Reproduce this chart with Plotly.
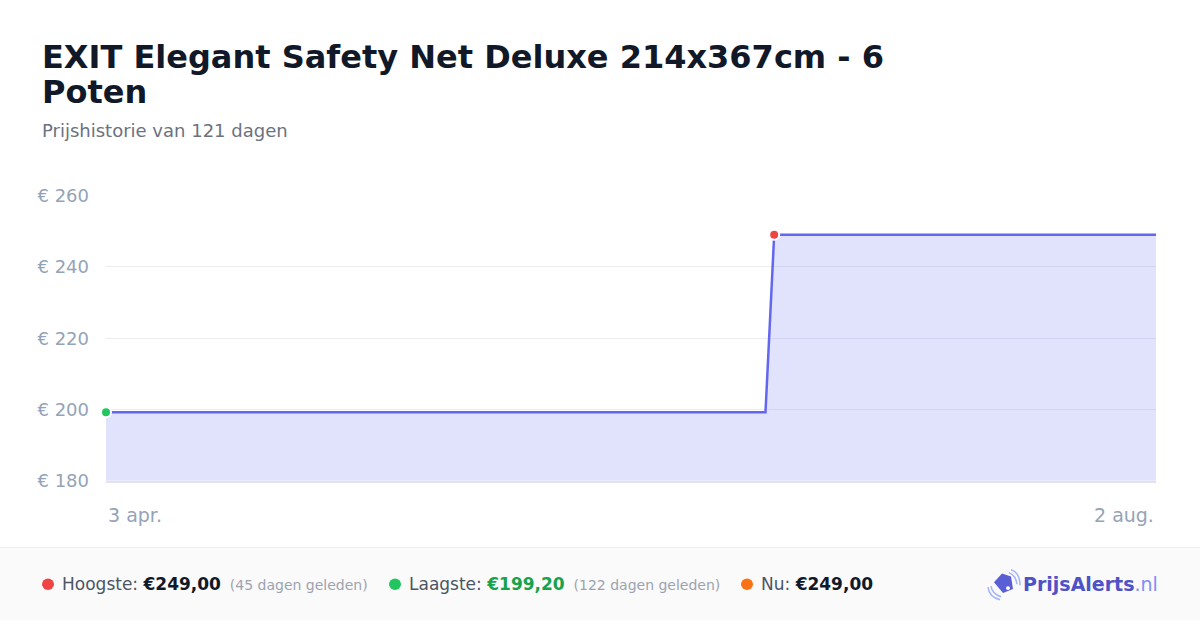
import plotly.graph_objects as go

# ---- data ----
dates = ["2025-04-03", "2025-06-18", "2025-06-19", "2025-08-02"]
prices = [199.20, 199.20, 249.00, 249.00]
y_ticks = [180, 200, 220, 240, 260]
y_tick_labels = ["€ 180", "€ 200", "€ 220", "€ 240", "€ 260"]
x_tick_dates = ["2025-04-03", "2025-08-02"]
x_tick_labels = ["3 apr.", "2 aug."]
title_lines = ["EXIT Elegant Safety Net Deluxe 214x367cm - 6", "Poten"]
subtitle_text = "Prijshistorie van 121 dagen"

W, H = 1200, 630
def px(x):
    return x / W
def py(y):
    return 1 - y / H

FONT = "DejaVu Sans"
LINE = "#6366f1"

hi = max(range(len(prices)), key=lambda i: (prices[i], -i))
lo = min(range(len(prices)), key=lambda i: (prices[i], i))

fig = go.Figure()
fig.add_trace(go.Scatter(
    x=dates, y=prices, mode="lines",
    line=dict(color=LINE, width=2.5),
    fill="tozeroy", fillcolor="rgba(129,140,248,0.24)",
    hoverinfo="skip", showlegend=False,
))
fig.add_trace(go.Scatter(
    x=[dates[hi]], y=[prices[hi]], mode="markers",
    marker=dict(color="#ef4444", size=10, line=dict(color="white", width=2)),
    showlegend=False, hoverinfo="skip", cliponaxis=False,
))
fig.add_trace(go.Scatter(
    x=[dates[lo]], y=[prices[lo]], mode="markers",
    marker=dict(color="#22c55e", size=10, line=dict(color="white", width=2)),
    showlegend=False, hoverinfo="skip", cliponaxis=False,
))

shapes = []
# footer background
shapes.append(dict(type="rect", xref="paper", yref="paper",
                   x0=0, x1=1, y0=0, y1=py(555),
                   fillcolor="#fafafa", line=dict(width=0), layer="below"))
shapes.append(dict(type="line", xref="paper", yref="paper",
                   x0=0, x1=1, y0=py(555), y1=py(555),
                   line=dict(color="#eeeeee", width=1)))
# footer dots
for cx, col in [(48, "#ef4444"), (395, "#22c55e"), (747, "#f97316")]:
    r = 6
    shapes.append(dict(type="circle", xref="paper", yref="paper",
                       x0=px(cx - r), x1=px(cx + r), y0=py(593 + r), y1=py(593 - r),
                       fillcolor=col, line=dict(width=0)))

# logo icon (tag + waves)
def path(points, close=True):
    s = "M " + " L ".join(f"{px(x)},{py(y)}" for x, y in points)
    return s + (" Z" if close else "")
shapes.append(dict(type="path", xref="paper", yref="paper",
                   path=path([(994, 591), (1002, 582), (1011, 585), (1013, 598), (1003, 602)]),
                   fillcolor="#5b5fd6", line=dict(width=0)))
shapes.append(dict(type="circle", xref="paper", yref="paper",
                   x0=px(1006), x1=px(1010), y0=py(599), y1=py(595),
                   fillcolor="white", line=dict(width=0)))
def qpath(p0, c, p1):
    return f"M {px(p0[0])},{py(p0[1])} Q {px(c[0])},{py(c[1])} {px(p1[0])},{py(p1[1])}"
for p0, c, p1 in [((1009, 581), (1016, 584), (1017, 593)),
                  ((1011, 578), (1020, 581), (1020, 594)),
                  ((991, 595), (992, 603), (1001, 606)),
                  ((988, 596), (989, 606), (1000, 609))]:
    shapes.append(dict(type="path", xref="paper", yref="paper", path=qpath(p0, c, p1),
                       line=dict(color="#a5b4fc", width=1.5)))

annotations = [
    dict(text=f"<b>{title_lines[0]}</b>", xref="paper", yref="paper",
         x=px(40), y=py(48), xanchor="left", yanchor="middle", align="left",
         showarrow=False, font=dict(family=FONT, size=32, color="#111827")),
    dict(text=f"<b>{title_lines[1]}</b>", xref="paper", yref="paper",
         x=px(40), y=py(84), xanchor="left", yanchor="middle", align="left",
         showarrow=False, font=dict(family=FONT, size=32, color="#111827")),
    dict(text=subtitle_text, xref="paper", yref="paper",
         x=px(40), y=py(124), xanchor="left", yanchor="middle", align="left",
         showarrow=False, font=dict(family=FONT, size=18, color="#6b7280")),
    dict(text=x_tick_labels[0], xref="x", yref="paper", x=x_tick_dates[0], y=py(521),
         xanchor="left", yanchor="middle", showarrow=False,
         font=dict(family=FONT, size=19, color="#94a3b8")),
    dict(text=x_tick_labels[1], xref="x", yref="paper", x=x_tick_dates[1], y=py(521),
         xanchor="right", yanchor="middle", showarrow=False,
         font=dict(family=FONT, size=19, color="#94a3b8")),
]

def footer_item(x, label, value, value_color, note=None):
    t = f"{label} <b><span style='color:{value_color}'>{value}</span></b>"
    if note:
        t += f"<span style='font-size:14px;color:#9ca3af'>  {note}</span>"
    return dict(text=t, xref="paper", yref="paper", x=px(x), y=py(593),
                xanchor="left", yanchor="middle", showarrow=False,
                font=dict(family=FONT, size=17, color="#4b5563"))

annotations += [
    footer_item(60, "Hoogste:", "€249,00", "#111827", "(45 dagen geleden)"),
    footer_item(407, "Laagste:", "€199,20", "#16a34a", "(122 dagen geleden)"),
    footer_item(759, "Nu:", "€249,00", "#111827"),
    dict(text="<b><span style='color:#4f52c6'>PrijsAlerts</span></b><span style='color:#818cf8'>.nl</span>",
         xref="paper", yref="paper", x=px(1160), y=py(593), xanchor="right", yanchor="middle",
         showarrow=False, font=dict(family=FONT, size=19)),
]

fig.update_layout(
    width=W, height=H,
    margin=dict(l=0, r=0, t=0, b=0),
    paper_bgcolor="white", plot_bgcolor="white",
    shapes=shapes, annotations=annotations,
    xaxis=dict(domain=[px(106), px(1156)], range=[dates[0], dates[-1]],
               showgrid=False, showticklabels=False, zeroline=False,
               showline=True, linecolor="#e2e4ea", linewidth=1.5, fixedrange=True),
    yaxis=dict(domain=[py(486), py(191)], range=[180, 260],
               tickvals=y_ticks, ticktext=y_tick_labels,
               showgrid=True, gridcolor="#ececf0", gridwidth=1, zeroline=False,
               ticklabelstandoff=16, tickfont=dict(family=FONT, size=18, color="#94a3b8"),
               fixedrange=True),
)

fig.write_html(
    "out.html",
    config={"displayModeBar": False},
    post_script=(
        "document.documentElement.style.margin='0';"
        "document.documentElement.style.overflow='hidden';"
        "document.body.style.margin='0';document.body.style.padding='0';"
        "document.body.style.overflow='hidden';"
        "var d=document.getElementById('{plot_id}');"
        "d.style.position='fixed';d.style.left='0px';d.style.top='0px';"
    ),
)
